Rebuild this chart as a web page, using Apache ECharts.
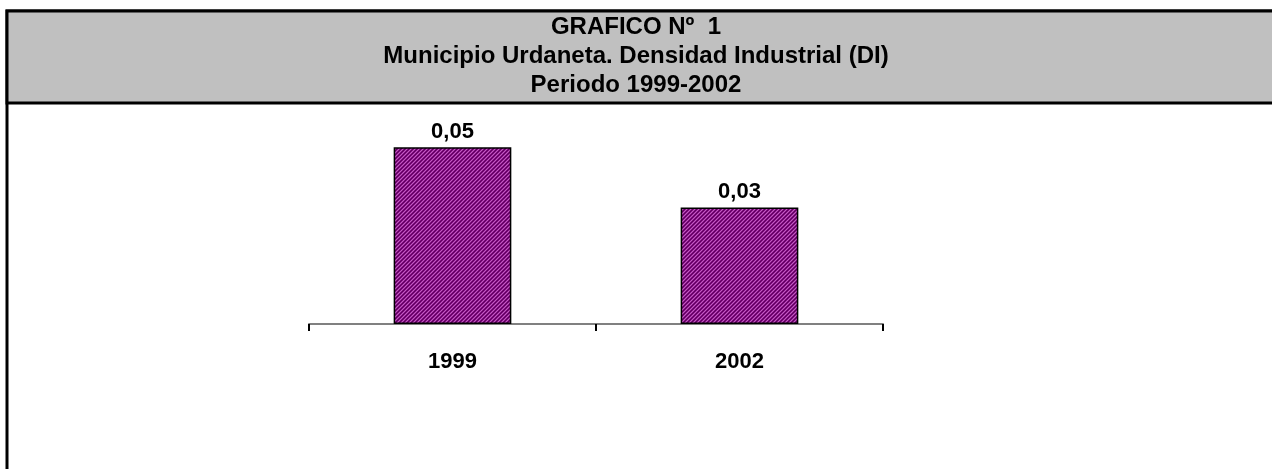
<!DOCTYPE html>
<html>
<head>
<meta charset="utf-8">
<script src="https://cdn.jsdelivr.net/npm/echarts@6/dist/echarts.min.js"></script>
<style>
  html, body { margin: 0; padding: 0; background: #fff; }
  #chart { width: 1272px; height: 469px; }
</style>
</head>
<body>
<div id="chart"></div>
<script>
const titleLines = ['GRAFICO Nº  1', 'Municipio Urdaneta. Densidad Industrial (DI)', 'Periodo 1999-2002'];
const years = ['1999', '2002'];
const density = [0.05, 0.033];

// diagonal hatch like the old excel fill
const makeHatch = () => {
  const c = document.createElement('canvas');
  c.width = 4;
  c.height = 4;
  const ctx = c.getContext('2d');
  ctx.fillStyle = '#8a128a';
  ctx.fillRect(0, 0, 4, 4);
  for (let i = 0; i < 4; i++) {
    ctx.fillStyle = '#c060c0';
    ctx.fillRect(3 - i, i, 1, 1);
    ctx.fillStyle = '#5c005c';
    ctx.fillRect((5 - i) % 4, i, 1, 1);
  }
  return c;
};

const chart = echarts.init(document.getElementById('chart'));

const option = {
  animation: false,
  graphic: [
    {
      type: 'rect',
      z: -10,
      shape: { x: 7, y: 11, width: 1300, height: 500 },
      style: { fill: '#fff', stroke: '#000', lineWidth: 3 }
    },
    {
      type: 'rect',
      z: -9,
      shape: { x: 7, y: 11, width: 1300, height: 92 },
      style: { fill: '#c0c0c0', stroke: '#000', lineWidth: 3 }
    }
  ],
  title: {
    text: titleLines.join('\n'),
    left: 'center',
    top: 8,
    textStyle: {
      fontFamily: 'Liberation Sans',
      fontWeight: 'bold',
      fontSize: 24,
      lineHeight: 29,
      color: '#000'
    }
  },
  grid: {
    left: 309,
    right: 389,
    top: 112,
    bottom: 145
  },
  xAxis: {
    type: 'category',
    data: years,
    axisLine: { lineStyle: { color: '#808080', width: 2 } },
    axisTick: { show: true, length: 7, lineStyle: { color: '#000', width: 2 } },
    axisLabel: {
      margin: 27,
      fontFamily: 'Liberation Sans',
      fontWeight: 'bold',
      fontSize: 22,
      color: '#000'
    }
  },
  yAxis: {
    type: 'value',
    min: 0,
    max: 0.06,
    show: false
  },
  series: [
    {
      type: 'bar',
      data: density,
      barWidth: '41%',
      itemStyle: {
        color: { image: makeHatch(), repeat: 'repeat' },
        borderColor: '#000',
        borderWidth: 1.5
      },
      label: {
        show: true,
        position: 'top',
        distance: 4,
        fontFamily: 'Liberation Sans',
        fontWeight: 'bold',
        fontSize: 22,
        color: '#000',
        formatter: p => p.value.toFixed(2).replace('.', ',')
      }
    }
  ]
};

chart.setOption(option);
</script>
</body>
</html>
